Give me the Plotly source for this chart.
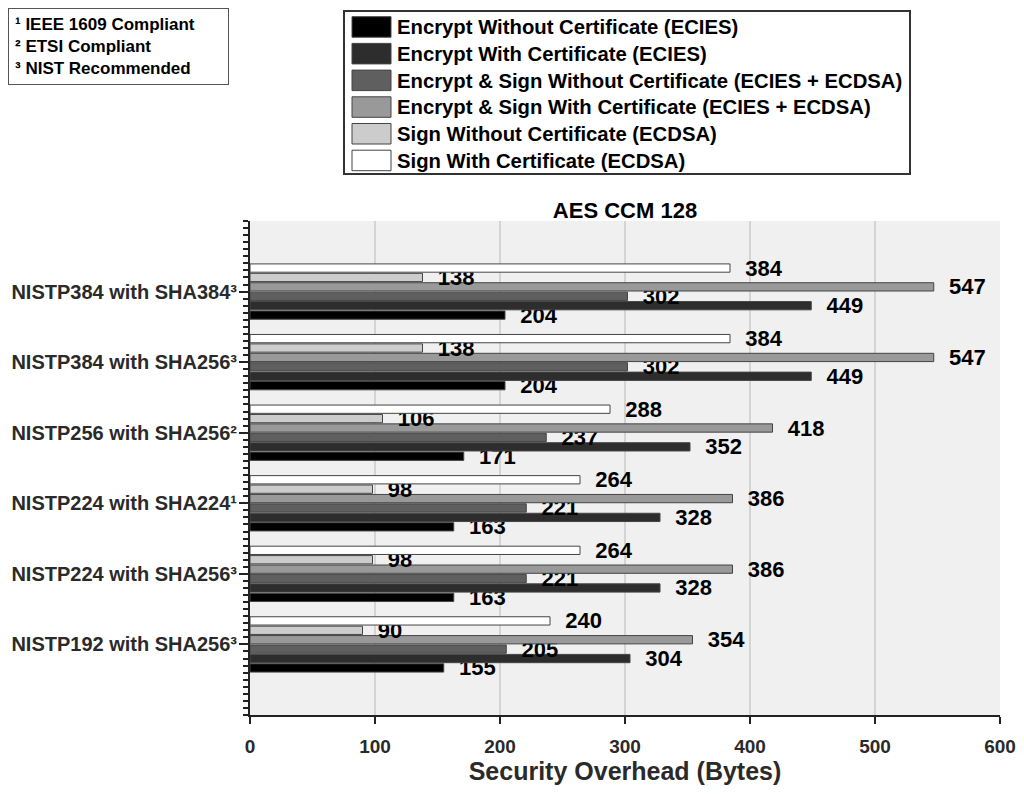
import plotly.graph_objects as go

# categories, bottom to top as drawn
configs = [
    "NISTP192 with SHA256³",
    "NISTP224 with SHA256³",
    "NISTP224 with SHA224¹",
    "NISTP256 with SHA256²",
    "NISTP384 with SHA256³",
    "NISTP384 with SHA384³",
]

series_names = [
    "Encrypt Without Certificate (ECIES)",
    "Encrypt With Certificate (ECIES)",
    "Encrypt & Sign Without Certificate (ECIES + ECDSA)",
    "Encrypt & Sign With Certificate (ECIES + ECDSA)",
    "Sign Without Certificate (ECDSA)",
    "Sign With Certificate (ECDSA)",
]

encrypt_no_cert = [155, 163, 163, 171, 204, 204]
encrypt_cert = [304, 328, 328, 352, 449, 449]
enc_sign_no_cert = [205, 221, 221, 237, 302, 302]
enc_sign_cert = [354, 386, 386, 418, 547, 547]
sign_no_cert = [90, 98, 98, 106, 138, 138]
sign_cert = [240, 264, 264, 288, 384, 384]

x_ticks = [0, 100, 200, 300, 400, 500, 600]
footnotes = ["¹ IEEE 1609 Compliant", "² ETSI Compliant", "³ NIST Recommended"]

colors = ["#000000", "#2d2d2d", "#5f5f5f", "#999999", "#cccccc", "#ffffff"]
all_values = [encrypt_no_cert, encrypt_cert, enc_sign_no_cert,
              enc_sign_cert, sign_no_cert, sign_cert]

font_family = "Liberation Sans, Arial, sans-serif"
positions = list(range(len(configs)))

# page margins (pixels); the page body adds 8px on top/left
ML, MR, MT, MB = 242, 32, 213, 90
W, H = 1024, 797
PW, PH = W - ML - MR, H - MT - MB


def px(x):
    return (x - ML) / PW


def py(y):
    return (H - MB - y) / PH


fig = go.Figure()
for name, vals, col in zip(series_names, all_values, colors):
    fig.add_trace(go.Bar(
        y=positions,
        x=vals,
        name=name,
        orientation="h",
        marker=dict(color=col, line=dict(color="#444444", width=1)),
        text=vals,
        texttemplate="  <b>%{x}</b>",
        textposition="outside",
        constraintext="none",
        cliponaxis=False,
        textfont=dict(family=font_family, size=22, color="#000000"),
        hoverinfo="x+name",
        showlegend=False,
    ))

fig.update_layout(
    width=W,
    height=H,
    barmode="group",
    bargap=0.2,
    bargroupgap=0.12,
    paper_bgcolor="white",
    plot_bgcolor="#f0f0f0",
    margin=dict(l=ML, r=MR, t=MT, b=MB, autoexpand=False),
    font=dict(family=font_family, color="#222222"),
    title=dict(
        text="<b>AES CCM 128</b>",
        x=0.5, xref="paper", xanchor="center",
        y=1, yref="paper", yanchor="bottom",
        pad=dict(b=3),
        font=dict(size=22, color="#000000"),
    ),
    xaxis=dict(
        range=[0, 600],
        tickvals=x_ticks,
        ticks="outside",
        ticklen=7,
        tickwidth=2,
        tickcolor="#222222",
        ticklabelstandoff=6,
        automargin=False,
        showline=True,
        linecolor="#222222",
        linewidth=2,
        showgrid=True,
        gridcolor="#d4d4d4",
        gridwidth=2,
        zeroline=False,
        tickfont=dict(size=19, color="#2a2a2a", weight="bold"),
        title=dict(text="<b>Security Overhead (Bytes)</b>",
                   font=dict(size=25, color="#2a2a2a"), standoff=6),
    ),
    yaxis=dict(
        range=[-1, 6],
        tickmode="array",
        tickvals=positions,
        ticktext=configs,
        ticks="outside",
        ticklen=9,
        tickwidth=2,
        tickcolor="#222222",
        ticklabelstandoff=-2,
        automargin=False,
        minor=dict(dtick=0.1, tick0=0, ticks="outside", ticklen=5,
                   tickwidth=2, tickcolor="#222222", showgrid=False),
        showline=True,
        linecolor="#222222",
        linewidth=2,
        showgrid=False,
        zeroline=False,
        tickfont=dict(size=20, color="#2a2a2a", weight="bold"),
    ),
)

# legend box drawn by hand so the swatches can be large
fig.add_shape(type="rect", xref="paper", yref="paper",
              x0=px(336), x1=px(902), y0=py(166), y1=py(3),
              line=dict(color="#333333", width=2), fillcolor="white")
for i, (name, col) in enumerate(zip(series_names, colors)):
    top = 8.7 + 26.7 * i
    fig.add_shape(type="rect", xref="paper", yref="paper",
                  x0=px(344), x1=px(383), y0=py(top + 20.5), y1=py(top),
                  line=dict(color="#444444", width=1), fillcolor=col)
    fig.add_annotation(text=f"<b>{name}</b>", xref="paper", yref="paper",
                       x=px(387), y=py(top + 10.5), xanchor="left",
                       yanchor="middle", showarrow=False,
                       font=dict(size=20.3, color="#000000", family=font_family))

fig.add_annotation(
    text="<br>".join(f"<b>{t}</b>" for t in footnotes),
    xref="paper", yref="paper",
    x=px(0), y=py(0), xanchor="left", yanchor="top",
    align="left",
    width=207,
    showarrow=False,
    bordercolor="#555555",
    borderwidth=1,
    borderpad=6,
    bgcolor="white",
    font=dict(size=17, color="#000000", family=font_family),
)

fig.write_html("out.html")
